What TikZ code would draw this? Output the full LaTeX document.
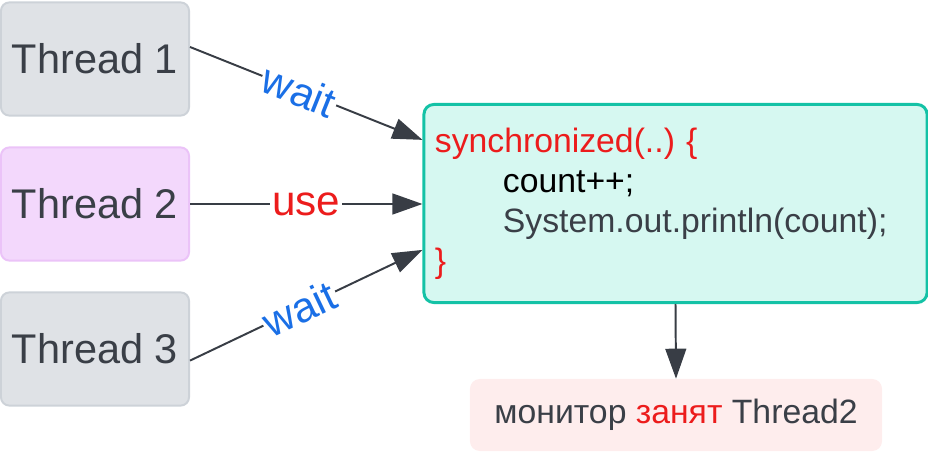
\documentclass[tikz,border=0pt]{standalone}
\usepackage{fontspec}
\setmainfont{Liberation Sans}
\usetikzlibrary{arrows.meta,positioning}

\definecolor{inkgray}{HTML}{3A3F47}
\definecolor{linegray}{HTML}{383D45}
\definecolor{codered}{HTML}{EC1C1C}
\definecolor{waitblue}{HTML}{1A6FE6}
\definecolor{greyfill}{HTML}{DFE2E6}
\definecolor{greyline}{HTML}{CDD2D8}
\definecolor{lilacfill}{HTML}{F3D8FC}
\definecolor{lilacline}{HTML}{EBC3F8}
\definecolor{tealfill}{HTML}{D6F8F1}
\definecolor{tealline}{HTML}{14C2A6}
\definecolor{pinkfill}{HTML}{FEEDED}

\begin{document}
\begin{tikzpicture}[x=0.025cm, y=-0.025cm,
    thread/.style={draw=greyline, fill=greyfill, line width=1.4pt, rounded corners=6pt,
        minimum width=4.7cm, minimum height=2.83cm, text=inkgray,
        font=\fontsize{29.5}{34}\selectfont},
    lbl/.style={midway, fill=white, inner sep=1.5pt, font=\fontsize{30}{34}\selectfont}]

        \useasboundingbox (0,0) rectangle (928,452);

        \node [thread] (t1) at (95,59) {Thread 1};
        \node [thread, draw=lilacline, fill=lilacfill] (t2) at (95,204) {Thread 2};
        \node [thread] (t3) at (95,349) {Thread 3};

        \node [draw=tealline, fill=tealfill, line width=2.1pt, rounded corners=7pt,
            text width=12.025cm, inner xsep=0.275cm, minimum height=4.95cm,
            align=left, text=inkgray, font=\fontsize{24}{28.5}\selectfont\frenchspacing] (sync) at (675.5,203.5)
            {{\color{codered}synchronized(..) \{}\\
             \hspace*{1.7cm}{\color{black}count++;}\\
             \hspace*{1.7cm}System.out.println(count);\\
             {\color{codered}\}}};

        \node [fill=pinkfill, rounded corners=7pt, minimum width=10.3cm, minimum height=1.8cm,
            text=inkgray, font=\fontsize{24}{28.5}\selectfont] (mon) at (676,415)
            {монитор {\color{codered}занят} Thread2};

        \begin{scope}[line width=1.4pt, draw=linegray, -{Triangle[length=0.75cm,width=0.52cm]}]
        \draw ([yshift=0.3cm]t1.east) -- ([yshift=1.59cm]sync.west)
            node [lbl, sloped, pos=0.47, text=waitblue] {wait};
        \draw (t2.east) -- (t2.east -| sync.west)
            node [lbl, text=codered] {use};
        \draw ([yshift=-0.29cm]t3.east) -- ([yshift=-1.16cm]sync.west)
            node [lbl, sloped, pos=0.47, text=waitblue] {wait};
        \draw (sync.south) -- (mon.north);
        \end{scope}

\end{tikzpicture}
\end{document}
